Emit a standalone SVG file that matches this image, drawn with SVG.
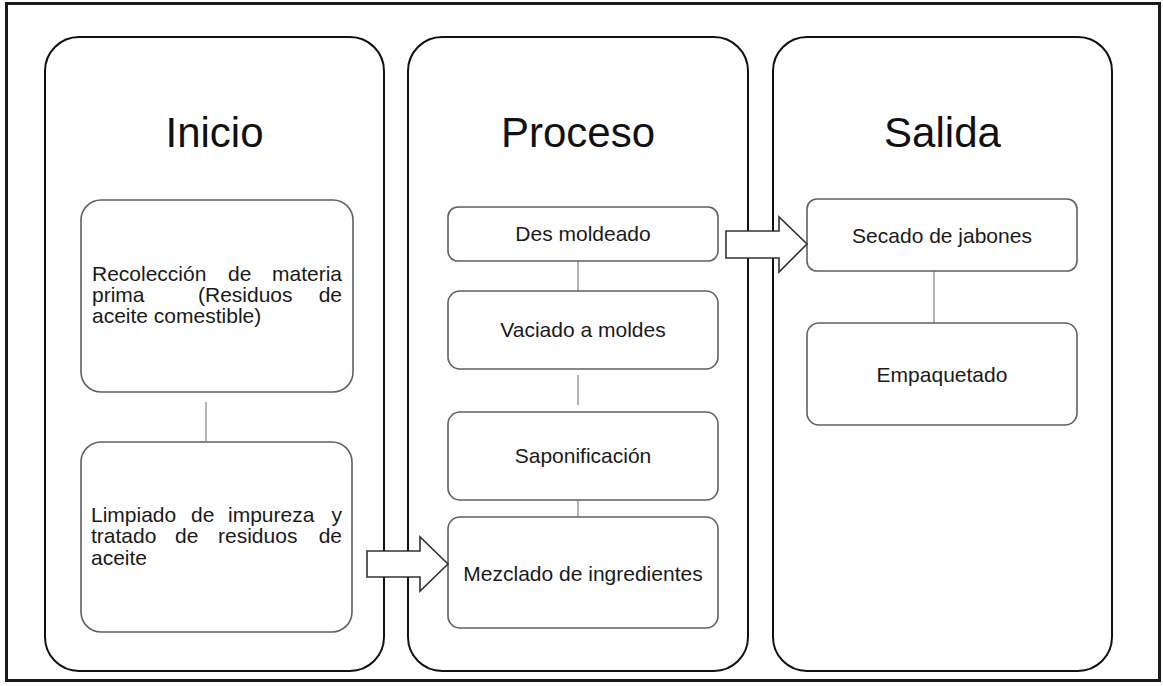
<svg xmlns="http://www.w3.org/2000/svg" width="1163" height="686" viewBox="0 0 1163 686">
  <style>
    .frame { fill: #ffffff; stroke: #1a1a1a; stroke-width: 3; }
    .col { fill: #ffffff; stroke: #111111; stroke-width: 2; }
    .box { fill: #ffffff; stroke: #606060; stroke-width: 1.6; }
    .title { font-family: "Liberation Sans", Arial, sans-serif; font-size: 42px; fill: #111111; text-anchor: middle; }
    .lbl { font-family: "Liberation Sans", Arial, sans-serif; font-size: 21px; fill: #1a1a1a; }
    .mid { text-anchor: middle; }
    .end { text-anchor: end; }
    .link { stroke: #8a8a8a; stroke-width: 1.3; fill: none; }
    .barrow { fill: #ffffff; stroke: #333333; stroke-width: 1.6; stroke-linejoin: miter; }
  </style>
  <rect x="0" y="0" width="1163" height="686" fill="#ffffff"/>
  <rect class="frame" x="6.5" y="3.5" width="1153" height="677"/>

  <g id="col-inicio">
    <rect class="col" x="45" y="37" width="339" height="634" rx="34" ry="34"/>
    <text class="title" x="214.5" y="147">Inicio</text>
  </g>
  <g id="col-proceso">
    <rect class="col" x="408" y="37" width="340" height="634" rx="34" ry="34"/>
    <text class="title" x="578" y="147">Proceso</text>
  </g>
  <g id="col-salida">
    <rect class="col" x="773" y="37" width="339" height="634" rx="34" ry="34"/>
    <text class="title" x="942.5" y="147">Salida</text>
  </g>

  <g id="connectors">
    <line class="link" x1="206" y1="402" x2="206" y2="441"/>
    <line class="link" x1="578" y1="261" x2="578" y2="291"/>
    <line class="link" x1="578" y1="375" x2="578" y2="405"/>
    <line class="link" x1="578" y1="500" x2="578" y2="517"/>
    <line class="link" x1="934" y1="271" x2="934" y2="323"/>
  </g>

  <g id="n-recoleccion">
    <rect class="box" x="81" y="200" width="272" height="192" rx="20" ry="20"/>
    <text class="lbl" x="92" y="281">Recolección</text>
    <text class="lbl" x="228" y="281">de</text>
    <text class="lbl end" x="342" y="281">materia</text>
    <text class="lbl" x="92" y="302">prima</text>
    <text class="lbl" x="198" y="302">(Residuos</text>
    <text class="lbl end" x="342" y="302">de</text>
    <text class="lbl" x="92" y="323">aceite comestible)</text>
  </g>
  <g id="n-limpiado">
    <rect class="box" x="81" y="442" width="271" height="190" rx="20" ry="20"/>
    <text class="lbl" x="91" y="522">Limpiado</text>
    <text class="lbl" x="191" y="522">de</text>
    <text class="lbl" x="228" y="522">impureza</text>
    <text class="lbl end" x="342" y="522">y</text>
    <text class="lbl" x="91" y="543">tratado</text>
    <text class="lbl" x="175" y="543">de</text>
    <text class="lbl" x="218" y="543">residuos</text>
    <text class="lbl end" x="342" y="543">de</text>
    <text class="lbl" x="91" y="565">aceite</text>
  </g>

  <g id="n-desmoldeado">
    <rect class="box" x="448" y="207" width="270" height="54" rx="10" ry="10"/>
    <text class="lbl mid" x="583" y="241">Des moldeado</text>
  </g>
  <g id="n-vaciado">
    <rect class="box" x="448" y="291" width="270" height="78" rx="12" ry="12"/>
    <text class="lbl mid" x="583" y="337">Vaciado a moldes</text>
  </g>
  <g id="n-saponificacion">
    <rect class="box" x="448" y="412" width="270" height="88" rx="12" ry="12"/>
    <text class="lbl mid" x="583" y="463">Saponificación</text>
  </g>
  <g id="n-mezclado">
    <rect class="box" x="448" y="517" width="270" height="111" rx="12" ry="12"/>
    <text class="lbl mid" x="583" y="581">Mezclado de ingredientes</text>
  </g>

  <g id="n-secado">
    <rect class="box" x="807" y="199" width="270" height="72" rx="10" ry="10"/>
    <text class="lbl mid" x="942" y="243">Secado de jabones</text>
  </g>
  <g id="n-empaquetado">
    <rect class="box" x="807" y="323" width="270" height="102" rx="12" ry="12"/>
    <text class="lbl mid" x="942" y="382">Empaquetado</text>
  </g>

  <g id="block-arrows">
    <polygon class="barrow" points="367,551 420,551 420,537 448,564 420,591 420,577 367,577"/>
    <polygon class="barrow" points="726,231 779,231 779,217 807,244 779,272 779,258 726,258"/>
  </g>
</svg>
